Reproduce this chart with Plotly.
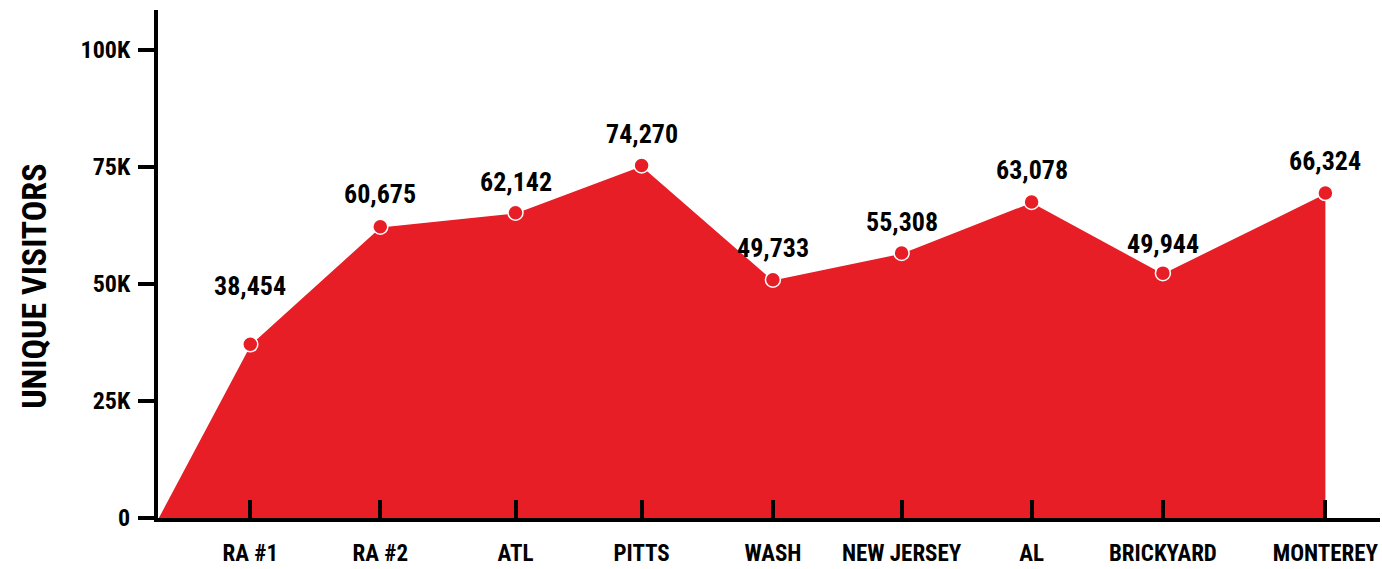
import plotly.graph_objects as go

# venues along the x axis
venues = ["RA #1", "RA #2", "ATL", "PITTS", "WASH", "NEW JERSEY", "AL", "BRICKYARD", "MONTEREY"]
# position of each venue on the x axis (uneven spacing, as in the original)
venue_pos = [0.71, 1.71, 2.75, 3.72, 4.73, 5.72, 6.72, 7.73, 8.98]
# height of each point as drawn
visitors_drawn = [37100, 62200, 65200, 75300, 50900, 56600, 67500, 52300, 69400]
# printed labels
visitor_labels = ["38,454", "60,675", "62,142", "74,270", "49,733", "55,308", "63,078", "49,944", "66,324"]

y_ticks = [0, 25000, 50000, 75000, 100000]
y_tick_text = ["0", "25K", "50K", "75K", "100K"]

RED = "#E81E26"
FONT = "Roboto Condensed, Roboto, sans-serif"

fig = go.Figure()

# the filled area, starting from the origin
fig.add_trace(go.Scatter(
    x=[0] + venue_pos,
    y=[0] + visitors_drawn,
    mode="lines",
    fill="tozeroy",
    fillcolor=RED,
    line=dict(color="white", width=1.5),
    hoverinfo="skip",
))

fig.add_trace(go.Scatter(
    x=venue_pos,
    y=visitors_drawn,
    mode="markers",
    marker=dict(size=15, color=RED, line=dict(color="white", width=1.5)),
    hovertext=visitor_labels,
))

# value labels above the points (first one sits higher)
label_shift = [58, 33, 31, 31, 32, 31, 32, 29, 32]
for xp, yv, lab, sh in zip(venue_pos, visitors_drawn, visitor_labels, label_shift):
    fig.add_annotation(x=xp, y=yv, text=lab, showarrow=False, yshift=sh,
                       font=dict(family=FONT, size=26, color="black", weight="bold"))

fig.add_annotation(text="UNIQUE VISITORS", xref="paper", yref="paper", x=0, y=0.455,
                   xanchor="center", yanchor="middle",
                   xshift=-124, textangle=-90, showarrow=False,
                   font=dict(family=FONT, size=34, color="black", weight="bold"))

fig.update_xaxes(
    range=[0, 9.4],
    tickvals=venue_pos, ticktext=venues,
    ticks="inside", ticklen=18, tickwidth=4, tickcolor="black",
    showline=True, linewidth=4, linecolor="black",
    showgrid=False, zeroline=False,
    ticklabelstandoff=11,
    tickfont=dict(family=FONT, size=23, color="black", weight="bold"),
)
fig.update_yaxes(
    range=[0, 108500],
    tickvals=y_ticks, ticktext=y_tick_text,
    ticks="outside", ticklen=16, tickwidth=4, tickcolor="black",
    showline=True, linewidth=4, linecolor="black",
    showgrid=False, zeroline=False,
    ticklabelstandoff=3,
    tickfont=dict(family=FONT, size=24, color="black", weight="bold"),
)

fig.update_layout(
    width=1382, height=569,
    margin=dict(l=158, r=2, t=10, b=51),
    paper_bgcolor="white", plot_bgcolor="white",
    showlegend=False,
)

# drop the default 8px page margin so the figure fills the window
fig.write_html("out.html", config={"displayModeBar": False},
               post_script="document.body.style.margin='0';")
